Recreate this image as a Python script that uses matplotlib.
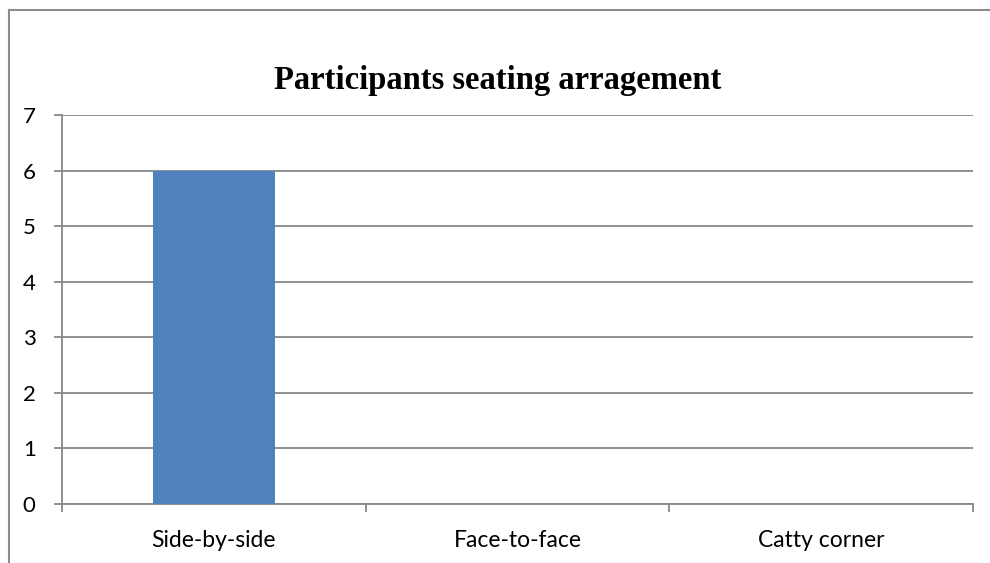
import matplotlib
matplotlib.use("Agg")
import matplotlib.pyplot as plt
from matplotlib.lines import Line2D

categories = ["Side-by-side", "Face-to-face", "Catty corner"]
values = [6, 0, 0]
yticks = [0, 1, 2, 3, 4, 5, 6, 7]
title = "Participants seating arragement"

grid_c = "#878787"
bar_c = "#4F81BD"

fig = plt.figure(figsize=(9.9, 5.63), dpi=100)
W, H = 990, 563

# outer chart border (left and top visible)
fig.add_artist(Line2D([9/W, 9/W], [0, 1-10/H], color="#8c8c8c", lw=1.5, transform=fig.transFigure))
fig.add_artist(Line2D([9/W, 1], [1-10/H, 1-10/H], color="#8c8c8c", lw=1.5, transform=fig.transFigure))

ax = fig.add_axes([62/W, 1-504/H, (973-62)/W, (504-115)/H])
x = list(range(len(categories)))
ax.bar(x, values, width=0.4, color=bar_c, zorder=3)
ax.set_xlim(-0.5, len(categories)-0.5)
ax.set_ylim(0, 7)
ax.set_yticks(yticks)
ax.set_yticklabels([str(v) for v in yticks], fontsize=16, family="Lato")
ax.yaxis.grid(True, color=grid_c, lw=1.3, zorder=0)
for s in ["top", "right"]:
    ax.spines[s].set_visible(False)
for s in ["left", "bottom"]:
    ax.spines[s].set_color(grid_c)
    ax.spines[s].set_linewidth(1.3)
ax.tick_params(axis="y", length=6, width=1.3, color=grid_c, pad=13)
ax.set_xticks(x)
ax.set_xticklabels(categories, fontsize=16.5, family="Lato")
ax.tick_params(axis="x", length=0, pad=19)
ax.set_xticks([i - 0.5 for i in range(len(categories)+1)], minor=True)
ax.tick_params(axis="x", which="minor", length=6, width=1.3, color=grid_c)

fig.text(498/W, 1-80/H, title, ha="center", va="center",
         fontsize=23.5, fontweight="bold", family="Liberation Serif")

fig.savefig("out.png", dpi=100)
